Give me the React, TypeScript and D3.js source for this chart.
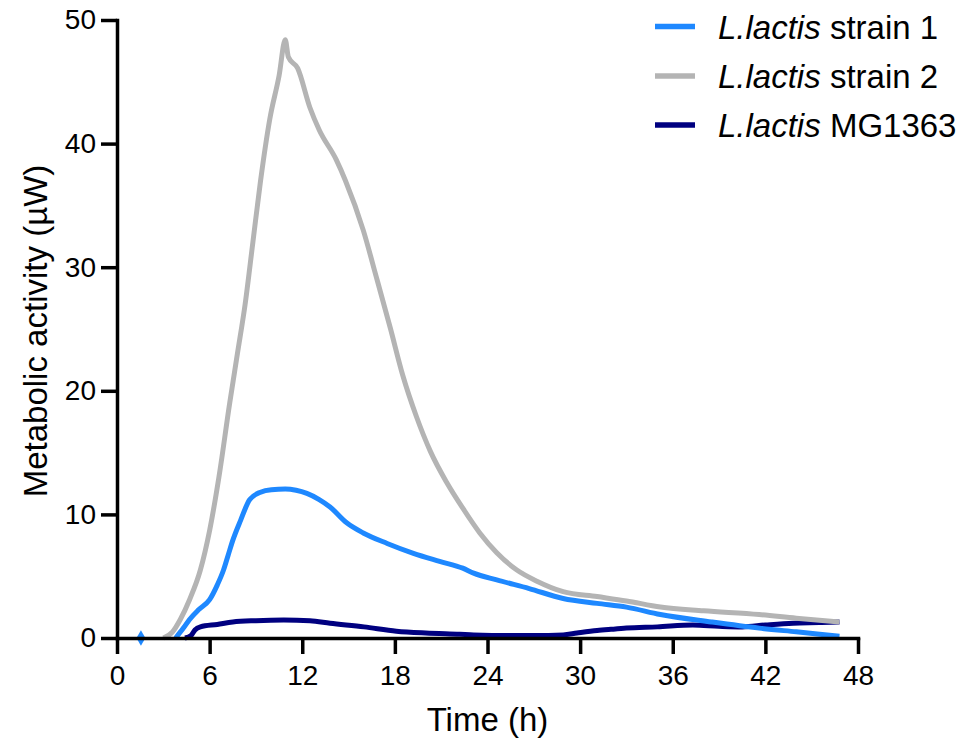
import React, { useEffect, useRef } from "react";
import * as d3 from "d3";

const xTicks = [0, 6, 12, 18, 24, 30, 36, 42, 48];
const yTicks = [0, 10, 20, 30, 40, 50];

const seriesNames = ["strain 1", "strain 2", "MG1363"];
const seriesColors = ["#1E88FF", "#B4B4B4", "#000080"];

const strain1Time = [3.8, 4.3, 4.7, 5.3, 6.0, 6.5, 6.9, 7.2, 7.5, 8.0, 8.6, 9.3, 10.0, 10.9, 11.6, 12.3, 13.1, 13.8, 14.9, 15.95, 17.5, 19.2, 20.9, 22.4, 23.1, 24.6, 26.7, 28.9, 31.1, 33.0, 35.2, 38.5, 41.6, 44.0, 46.8];
const strain1Values = [0, 0.8, 1.5, 2.3, 3.1, 4.3, 5.5, 6.7, 7.9, 9.5, 11.2, 11.8, 12.0, 12.05, 11.95, 11.7, 11.2, 10.6, 9.3, 8.5, 7.65, 6.85, 6.2, 5.65, 5.25, 4.7, 4.0, 3.2, 2.8, 2.5, 1.9, 1.3, 0.8, 0.5, 0.15];

const strain2Time = [3.0, 3.6, 4.1, 4.7, 5.4, 6.0, 6.6, 7.3, 7.8, 8.3, 8.8, 9.3, 9.9, 10.5, 10.9, 11.1, 11.7, 12.5, 13.1, 14.2, 14.8, 15.95, 16.8, 17.7, 18.5, 19.4, 20.3, 21.35, 22.4, 23.5, 24.6, 25.9, 27.2, 28.9, 31.1, 33.0, 35.2, 38.0, 41.6, 44.0, 46.8];
const strain2Values = [0, 0.5, 1.5, 3.1, 5.5, 8.7, 13, 19, 23, 27, 32, 37, 42, 45.5, 48.4, 47, 46.1, 42.9, 41.1, 38.7, 37.0, 33.0, 29.2, 25.1, 21.3, 17.9, 15.1, 12.6, 10.5, 8.5, 6.9, 5.5, 4.6, 3.75, 3.35, 3.0, 2.5, 2.2, 1.9, 1.6, 1.3];

const mgTime = [4.4, 4.8, 5.05, 5.4, 6.5, 7.5, 9.0, 10.8, 12.5, 13.8, 16.0, 18.1, 20.0, 22.2, 23.1, 25.5, 27.0, 28.9, 29.8, 31.1, 32.0, 33.0, 35.0, 37.3, 39.0, 40.5, 42.0, 43.8, 45.5, 46.8];
const mgValues = [0, 0.2, 0.65, 0.9, 1.1, 1.3, 1.4, 1.45, 1.4, 1.2, 0.9, 0.55, 0.4, 0.3, 0.25, 0.2, 0.2, 0.25, 0.4, 0.6, 0.7, 0.8, 0.9, 1.05, 0.95, 0.9, 1.05, 1.2, 1.25, 1.3];

const strain1Isolated = [{ t: 1.55, v: 0 }];

const FONT = "'Liberation Sans', Arial, Helvetica, sans-serif";

export default function App() {
  const ref = useRef<SVGSVGElement>(null);

  useEffect(() => {
    const svg = d3.select(ref.current);
    svg.selectAll("*").remove();

    const x = d3.scaleLinear().domain([0, 48]).range([117, 858]);
    const y = d3.scaleLinear().domain([0, 50]).range([638, 20]);

    const series = [
      { t: strain1Time, v: strain1Values, color: seriesColors[0] },
      { t: strain2Time, v: strain2Values, color: seriesColors[1] },
      { t: mgTime, v: mgValues, color: seriesColors[2] },
    ];

    const line = d3
      .line<[number, number]>()
      .x((d) => x(d[0]))
      .y((d) => y(d[1]))
      .curve(d3.curveMonotoneX);

    const order = [2, 1, 0];
    order.forEach((i) => {
      const s = series[i];
      const pts = s.t.map((t, k) => [t, s.v[k]] as [number, number]);
      svg
        .append("path")
        .attr("d", line(pts))
        .attr("fill", "none")
        .attr("stroke", s.color)
        .attr("stroke-width", 5)
        .attr("stroke-linejoin", "round");
    });

    svg
      .selectAll(".iso")
      .data(strain1Isolated)
      .enter()
      .append("path")
      .attr("d", d3.symbol(d3.symbolDiamond, 70)())
      .attr("transform", (d) => `translate(${x(d.t)},${y(d.v)})`)
      .attr("fill", seriesColors[0]);

    const xAxis = d3.axisBottom(x).tickValues(xTicks).tickSize(16).tickSizeOuter(0).tickPadding(6);
    const gx = svg.append("g").attr("transform", `translate(0,${y(0)})`).call(xAxis);
    const yAxis = d3.axisLeft(y).tickValues(yTicks).tickSize(16).tickSizeOuter(0).tickPadding(5);
    const gy = svg.append("g").attr("transform", `translate(${x(0)},0)`).call(yAxis);

    [gx, gy].forEach((g) => {
      g.selectAll("path.domain").attr("stroke", "#000").attr("stroke-width", 3.5).attr("stroke-linecap", "square");
      g.selectAll(".tick line").attr("stroke", "#000").attr("stroke-width", 3.5);
      g.selectAll(".tick text")
        .attr("fill", "#000")
        .style("font-family", FONT)
        .style("font-size", "28px");
    });
    gx.selectAll(".tick text").attr("dy", "0.9em");

    svg
      .append("text")
      .attr("x", (x(0) + x(48)) / 2)
      .attr("y", 731)
      .attr("text-anchor", "middle")
      .style("font-family", FONT)
      .style("font-size", "33px")
      .text("Time (h)");

    svg
      .append("text")
      .attr("transform", `translate(47,${(y(0) + y(50)) / 2 + 2}) rotate(-90)`)
      .attr("text-anchor", "middle")
      .style("font-family", FONT)
      .style("font-size", "33px")
      .text("Metabolic activity (µW)");

    const legendY = [26.5, 76, 125];
    seriesNames.forEach((name, i) => {
      const g = svg.append("g").attr("transform", `translate(0,${legendY[i]})`);
      g.append("line")
        .attr("x1", 655)
        .attr("x2", 695)
        .attr("y1", 0)
        .attr("y2", 0)
        .attr("stroke", seriesColors[i])
        .attr("stroke-width", 5.5);
      const t = g
        .append("text")
        .attr("x", 718)
        .attr("y", 12)
        .style("font-family", FONT)
        .style("font-size", "33px");
      t.append("tspan").style("font-style", "italic").text("L.lactis");
      t.append("tspan").text(" " + name);
    });
  }, []);

  return (
    <svg
      ref={ref}
      width={978}
      height={745}
      style={{ position: "absolute", left: 0, top: 0, background: "#fff" }}
    />
  );
}
